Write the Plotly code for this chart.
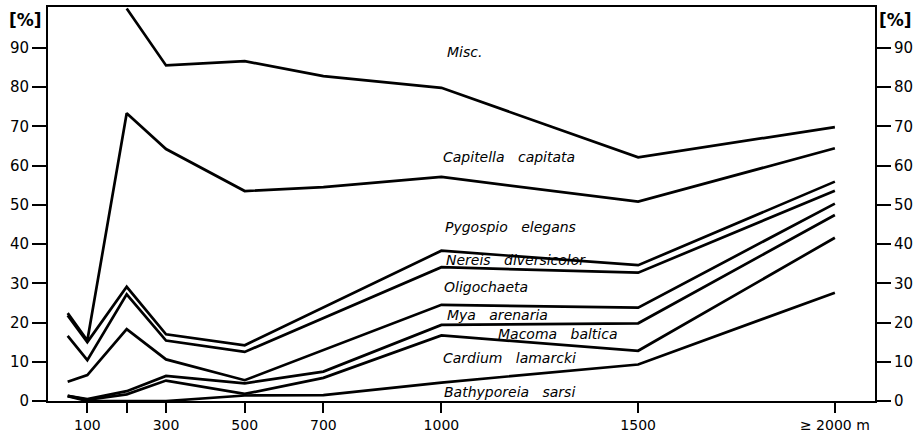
import plotly.graph_objects as go

# distance from shore [m]
distance = [50, 100, 200, 300, 500, 700, 1000, 1500, 2000]

# cumulative percentages (upper boundary of each group, stacked from bottom)
cum_bathyporeia = [1.2, 0.0, 0.0, 0.0, 1.4, 1.5, 4.7, 9.3, 27.6]
cum_cardium = [1.3, 0.3, 1.7, 5.2, 1.8, 5.9, 16.7, 12.8, 41.6]
cum_macoma = [1.3, 0.5, 2.5, 6.4, 4.5, 7.5, 19.4, 19.8, 47.4]
cum_mya = [4.9, 6.6, 18.3, 10.6, 5.3, 13.0, 24.5, 23.8, 50.3]
cum_oligochaeta = [16.6, 10.4, 27.2, 15.4, 12.5, 21.2, 34.1, 32.7, 53.6]
cum_nereis = [21.8, 15.0, 29.1, 17.0, 14.2, 23.8, 38.3, 34.6, 55.9]
cum_pygospio = [22.4, 15.4, 73.3, 64.2, 53.5, 54.5, 57.1, 50.8, 64.4]
cum_capitella = [None, None, 100, 85.5, 86.6, 82.8, 79.8, 62.1, 69.8]

series = [cum_bathyporeia, cum_cardium, cum_macoma, cum_mya,
          cum_oligochaeta, cum_nereis, cum_pygospio, cum_capitella]

x_tickvals = [100, 200, 300, 500, 700, 1000, 1500, 2000]
x_ticktext = ["100", "", "300", "500", "700", "1000", "1500", "≥ 2000 m"]
y_tickvals = [0, 10, 20, 30, 40, 50, 60, 70, 80, 90]

group_labels = ["Misc.", "Capitella   capitata", "Pygospio   elegans",
                "Nereis   diversicolor", "Oligochaeta", "Mya   arenaria",
                "Macoma   baltica", "Cardium   lamarcki", "Bathyporeia   sarsi"]
label_x = [1008, 998, 1003, 1006, 1001, 1008, 1138, 1000, 1001]
label_y = [89.0, 62.2, 44.4, 35.9, 29.0, 21.9, 17.2, 11.0, 2.2]

fig = go.Figure()
for s in series:
    fig.add_trace(go.Scatter(x=distance, y=s, mode="lines",
                             line=dict(color="black", width=2.7),
                             showlegend=False, hoverinfo="skip",
                             connectgaps=False))
# dummy trace so the right-hand axis is drawn
fig.add_trace(go.Scatter(x=[0], y=[0], yaxis="y2", mode="markers",
                         marker=dict(opacity=0), showlegend=False,
                         hoverinfo="skip"))

for t, xx, yy in zip(group_labels, label_x, label_y):
    fig.add_annotation(x=xx, y=yy, xref="x", yref="y",
                       text=t.replace(" ", "\u00a0"),
                       showarrow=False, xanchor="left", yanchor="middle",
                       font=dict(family="DejaVu Sans", size=14, color="black",
                                 style="italic"))

fig.add_annotation(x=-0.0496, y=0.998, xref="paper", yref="paper", text="[%]",
                   showarrow=False, xanchor="left", yanchor="top",
                   font=dict(family="DejaVu Sans", size=17, color="black",
                             weight="bold"))
fig.add_annotation(x=1.003, y=0.998, xref="paper", yref="paper", text="[%]",
                   showarrow=False, xanchor="left", yanchor="top",
                   font=dict(family="DejaVu Sans", size=17, color="black",
                             weight="bold"))

tickfont = dict(family="DejaVu Sans", size=15, color="black")
xtickfont = dict(family="DejaVu Sans", size=14, color="black")
fig.update_layout(
    width=923, height=433,
    margin=dict(l=48, r=48, t=7, b=32),
    paper_bgcolor="white", plot_bgcolor="white",
    xaxis=dict(range=[0, 2102], tickvals=x_tickvals, ticktext=x_ticktext,
               ticks="outside", ticklen=10, tickwidth=1.5, tickcolor="black",
               showline=True, linecolor="black", linewidth=2, mirror=True,
               showgrid=False, zeroline=False, tickfont=xtickfont,
               automargin=False),
    yaxis=dict(range=[0, 100.4], tickvals=y_tickvals,
               ticks="outside", ticklen=14, tickwidth=1.5, tickcolor="black",
               showline=True, linecolor="black", linewidth=2,
               showgrid=False, zeroline=False, tickfont=tickfont,
               automargin=False),
    yaxis2=dict(range=[0, 100.4], tickvals=y_tickvals, overlaying="y",
                side="right", ticks="outside", ticklen=14, tickwidth=1.5,
                tickcolor="black", showline=True, linecolor="black",
                linewidth=2, showgrid=False, zeroline=False, tickfont=tickfont,
                automargin=False),
)

fig.write_html("out.html",
               config={"displayModeBar": False},
               post_script="document.body.style.margin='0';")
